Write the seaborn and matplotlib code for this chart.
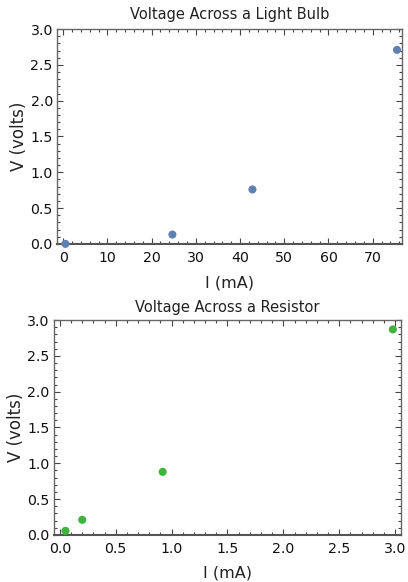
import numpy as np
import pandas as pd
import matplotlib
matplotlib.use("Agg")
import matplotlib.pyplot as plt
from matplotlib.ticker import MultipleLocator, FormatStrFormatter
import seaborn as sns

# light bulb data
bulb_current = [0.5, 24.7, 42.8, 75.5]
bulb_voltage = [0.0, 0.13, 0.76, 2.71]

# resistor data
res_current = [0.05, 0.20, 0.92, 2.98]
res_voltage = [0.056, 0.21, 0.88, 2.87]

sns.set_style("ticks")
plt.rcParams['font.family'] = ['DejaVu Sans']

fig = plt.figure(figsize=(4.08, 5.82), dpi=100)
ax1 = fig.add_axes([0.1397, 0.581, 0.985 - 0.1397, 0.950 - 0.581])
ax2 = fig.add_axes([0.132, 0.081, 0.982 - 0.132, 0.450 - 0.081])

df1 = pd.DataFrame({"I": bulb_current, "V": bulb_voltage})
df2 = pd.DataFrame({"I": res_current, "V": res_voltage})

sns.scatterplot(data=df1, x="I", y="V", ax=ax1, color="#5E81B5", s=34,
                edgecolor="none", clip_on=False, zorder=3)
sns.scatterplot(data=df2, x="I", y="V", ax=ax2, color="#3DB53D", s=34,
                edgecolor="none", clip_on=False, zorder=3)

def style(ax, title, xmaj, xmin, tpad, xlpad):
    ax.set_title(title, fontsize=10.5, pad=tpad, color="#222222")
    ax.set_xlabel("I (mA)", fontsize=11.5, labelpad=xlpad, color="#222222")
    ax.set_ylabel("V (volts)", fontsize=12, labelpad=2, color="#222222")
    ax.xaxis.set_major_locator(MultipleLocator(xmaj))
    ax.xaxis.set_minor_locator(MultipleLocator(xmin))
    ax.yaxis.set_major_locator(MultipleLocator(0.5))
    ax.yaxis.set_minor_locator(MultipleLocator(0.1))
    ax.yaxis.set_major_formatter(FormatStrFormatter("%.1f"))
    ax.tick_params(which="both", direction="in", top=True, right=True,
                   color="#444444", width=0.8)
    ax.tick_params(which="major", length=4, labelsize=10.2, pad=3,
                   labelcolor="#111111")
    ax.tick_params(axis="x", which="major", pad=5)
    ax.tick_params(which="minor", length=2)
    for sp in ax.spines.values():
        sp.set_color("#666666")
        sp.set_linewidth(1.0)
        sp.set_visible(True)
    ax.spines["bottom"].set_linewidth(1.5)
    ax.spines["bottom"].set_color("#555555")

style(ax1, "Voltage Across a Light Bulb", 10, 2, 7, 8)
ax1.set_xlim(-1.4, 76.6)
ax1.set_ylim(0, 3.0)

style(ax2, "Voltage Across a Resistor", 0.5, 0.1, 6, 7)
ax2.xaxis.set_major_formatter(FormatStrFormatter("%.1f"))
ax2.set_xlim(-0.054, 3.05)
ax2.set_ylim(0, 3.0)

fig.savefig("out.png", dpi=100)
